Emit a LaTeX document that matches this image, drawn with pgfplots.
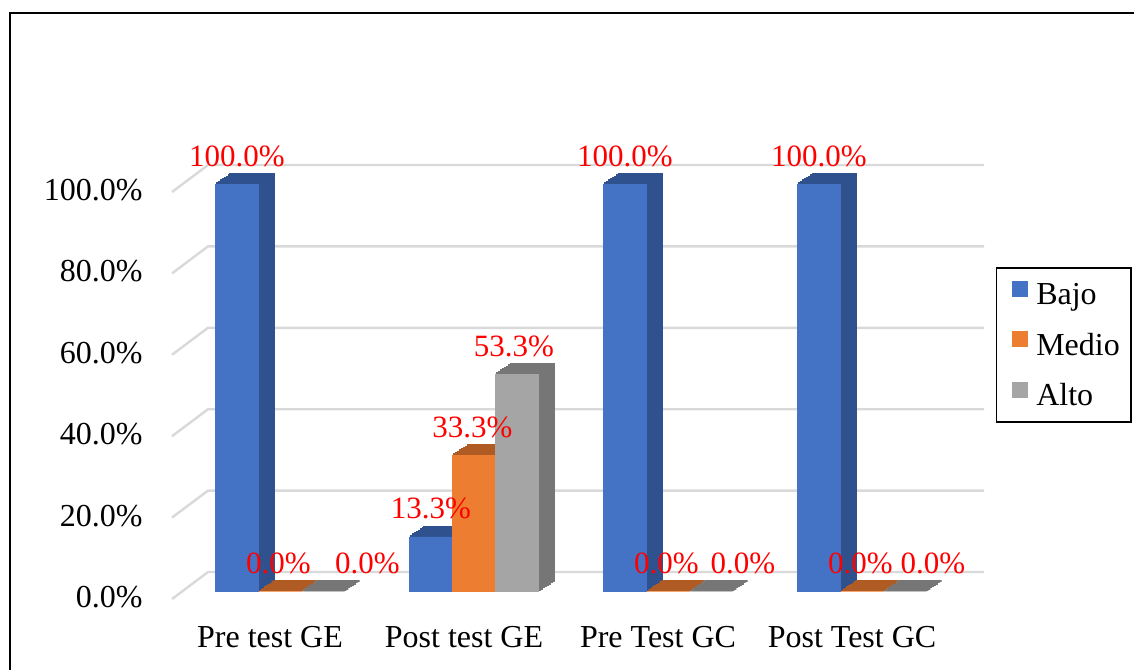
\documentclass[border=0pt]{standalone}
\usepackage{fontspec}
\setmainfont{Liberation Serif}
\usepackage{pgfplots}
\usepackage{pgfplotstable}
\pgfplotsset{compat=1.18}
\definecolor{bajo}{HTML}{4472C4}
\definecolor{bajoD}{HTML}{2F528F}
\definecolor{medio}{HTML}{ED7D31}
\definecolor{medioD}{HTML}{B05B23}
\definecolor{alto}{HTML}{A5A5A5}
\definecolor{altoD}{HTML}{767676}
\definecolor{gridc}{HTML}{D9D9D9}

\pgfplotstableread{
x y
0 100
1 13.3
2 100
3 100
}\bajo
\pgfplotstableread{
x y
0 0
1 33.3
2 0
3 0
}\medio
\pgfplotstableread{
x y lx
0 0 22.25
1 53.3 -1.5
2 0 16
3 0 14
}\alto

\pgfplotsset{
  leg/.style={legend image code/.code={\path (0pt,0pt); \fill[#1] (2pt,-1pt) rectangle (9.5pt,6.5pt);}},
  lbl/.style={forget plot, draw=none, fill=none,
    nodes near coords={\pgfmathprintnumber[fixed,fixed zerofill,precision=1]{\pgfplotspointmeta}\%},
    every node near coord/.append style={anchor=base, inner sep=0pt, yshift=9pt, text=red,
      font=\fontsize{15.5}{18}\selectfont}},
}

\begin{document}
\begin{tikzpicture}
\begin{axis}[
  at={(91.5pt,-295.5pt)}, anchor=south west,
  scale only axis, width=388pt, height=203.5pt,
  xmin=-0.5, xmax=3.5, ymin=0, ymax=100,
  clip=false,
  /pgf/number format/assume math mode=true,
  axis line style={draw=none}, tick style={draw=none}, major tick length=0pt,
  xtick={0,1,2,3},
  xticklabels={Pre test GE, Post test GE, Pre Test GC, Post Test GC},
  ytick={0,20,40,60,80,100},
  yticklabels={0.0\%,20.0\%,40.0\%,60.0\%,80.0\%,100.0\%},
  tick label style={font=\fontsize{16}{19}\selectfont, inner sep=0pt},
  yticklabel style={anchor=east, xshift=-20pt, yshift=-3pt},
  xticklabel style={anchor=center, xshift=-5pt, yshift=-23pt},
  legend cell align=left,
  legend style={at={(1.0476,0.796)}, anchor=north west, draw=black, line width=0.75pt,
    fill=white, font=\fontsize{16}{19}\selectfont, inner xsep=5.5pt, inner ysep=6pt,
    row sep=10.75pt, column sep=4.5pt,
    nodes={inner sep=0pt, text height=12.5pt, text depth=2pt}},
]
% gridlines (back wall + left side wall)
\pgfplotsinvokeforeach{0,20,40,60,80,100}{
  \draw[gridc, line width=1.2pt] ([xshift=-5.5pt,yshift=-4pt]axis cs:-0.5,#1)
     -- ([xshift=12.5pt,yshift=9.5pt]axis cs:-0.5,#1)
     -- ([xshift=12.5pt,yshift=9.5pt]axis cs:3.5,#1);
}
% Bajo
\pgfplotsinvokeforeach{1,...,8}{
  \addplot[forget plot, ybar, bar width=21.5pt, bar shift=-21.5pt, fill=bajoD, draw=bajoD,
    line width=1pt, xshift=#1*0.9375pt, yshift=#1*0.625pt] table[x=x,y=y]{\bajo};
}
\addplot[ybar, bar width=21.5pt, bar shift=-21.5pt, fill=bajo, draw=bajo, line width=0.3pt, leg=bajo]
  table[x=x,y=y]{\bajo};
\addlegendentry{Bajo}
% Medio
\pgfplotsinvokeforeach{1,...,8}{
  \addplot[forget plot, ybar, bar width=21.5pt, bar shift=0pt, fill=medioD, draw=medioD,
    line width=1pt, xshift=#1*0.9375pt, yshift=#1*0.625pt] table[x=x,y=y]{\medio};
}
\addplot[ybar, bar width=21.5pt, bar shift=0pt, fill=medio, draw=medio, line width=0.3pt, leg=medio]
  table[x=x,y=y]{\medio};
\addlegendentry{Medio}
% Alto
\pgfplotsinvokeforeach{1,...,8}{
  \addplot[forget plot, ybar, bar width=21.5pt, bar shift=21.5pt, fill=altoD, draw=altoD,
    line width=1pt, xshift=#1*0.9375pt, yshift=#1*0.625pt] table[x=x,y=y]{\alto};
}
\addplot[ybar, bar width=21.5pt, bar shift=21.5pt, fill=alto, draw=alto, line width=0.3pt, leg=alto]
  table[x=x,y=y]{\alto};
\addlegendentry{Alto}
% data labels
\addplot[ybar, bar width=21.5pt, bar shift=-21.5pt, lbl,
  every node near coord/.append style={xshift=-21.5pt}] table[x=x,y=y]{\bajo};
\addplot[ybar, bar width=21.5pt, bar shift=0pt, lbl,
  every node near coord/.append style={xshift=-0.75pt}] table[x=x,y=y]{\medio};
\addplot[ybar, bar width=21.5pt, bar shift=21.5pt, lbl,
  visualization depends on={\thisrow{lx} \as \lx},
  every node near coord/.append style={xshift=21.5pt+\lx pt}] table[x=x,y=y]{\alto};
\end{axis}
\draw[line width=1pt] (5pt,-6.5pt) rectangle (620pt,-400pt);
\pgfresetboundingbox
\useasboundingbox (0pt,0pt) rectangle (567pt,-334.5pt);
\end{tikzpicture}
\end{document}
